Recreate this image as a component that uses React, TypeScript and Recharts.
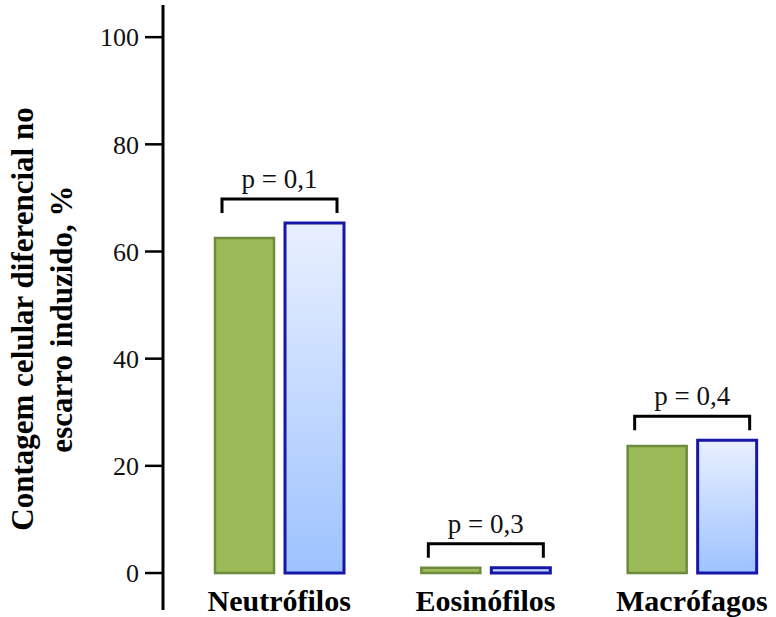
import React from "react";
import { BarChart, Bar, XAxis, YAxis, LabelList, Label } from "recharts";

const categories = ["Neutrófilos", "Eosinófilos", "Macrófagos"];
const groupA = [62.5, 1.0, 23.7];
const groupB = [65.3, 1.0, 24.8];
const pValues = ["p = 0,1", "p = 0,3", "p = 0,4"];
const yTicks = [0, 20, 40, 60, 80, 100];

const data = categories.map((name, i) => ({ name, a: groupA[i], b: groupB[i] }));

const SERIF = "'Liberation Serif', 'Times New Roman', serif";
const BAR_SIZE = 59;
const BAR_GAP = 11;

const Bracket = (props: any) => {
  const { x, y, width, index } = props;
  const left = x - BAR_GAP - width + 7;
  const right = x + width - 7;
  const top = y - 24;
  return (
    <g>
      <path
        d={`M${left},${top + 14} L${left},${top} L${right},${top} L${right},${top + 14}`}
        fill="none"
        stroke="#000"
        strokeWidth={3}
      />
      <text
        x={(left + right) / 2}
        y={top - 11}
        textAnchor="middle"
        fontFamily={SERIF}
        fontSize={27}
        fill="#111"
      >
        {pValues[index]}
      </text>
    </g>
  );
};

const CategoryTick = (props: any) => {
  const { x, y, payload } = props;
  return (
    <text
      x={x}
      y={y + 1}
      textAnchor="middle"
      fontFamily={SERIF}
      fontWeight="bold"
      fontSize={30}
      fill="#000"
    >
      {payload.value}
    </text>
  );
};

const AxisTitle = () => (
  <g fontFamily={SERIF} fontWeight="bold" fontSize={31} fill="#000">
    <text x={33} y={319} textAnchor="middle" transform="rotate(-90 33 319)">
      Contagem celular diferencial no
    </text>
    <text x={72} y={319} textAnchor="middle" transform="rotate(-90 72 319)">
      escarro induzido, %
    </text>
  </g>
);

export default function App() {
  return (
    <div style={{ position: "absolute", left: 0, top: 0 }}>
      <BarChart
        width={776}
        height={617}
        data={data}
        margin={{ top: 5, right: -19, bottom: 6, left: 0 }}
        barSize={BAR_SIZE}
        barGap={BAR_GAP}
      >
        <defs>
          <linearGradient id="blueFill" x1="0" y1="0" x2="0" y2="1">
            <stop offset="0%" stopColor="#E9F0FF" />
            <stop offset="100%" stopColor="#9DC2FF" />
          </linearGradient>
        </defs>
        <XAxis
          dataKey="name"
          height={1}
          axisLine={false}
          tickLine={false}
          tickSize={0}
          tickMargin={0}
          padding={{ left: 13, right: 0 }}
          tick={<CategoryTick />}
          interval={0}
        />
        <YAxis
          type="number"
          width={163}
          domain={[-6.9, 106]}
          ticks={yTicks}
          tickSize={18}
          tickMargin={6}
          axisLine={{ stroke: "#000", strokeWidth: 3 }}
          tickLine={{ stroke: "#000", strokeWidth: 2.5 }}
          tick={{ fill: "#111", fontFamily: SERIF, fontSize: 26 }}
        >
          <Label content={<AxisTitle />} />
        </YAxis>
        <Bar
          dataKey="a"
          fill="#9BBB59"
          stroke="#6E8B3D"
          strokeWidth={2.5}
          isAnimationActive={false}
        />
        <Bar
          dataKey="b"
          fill="url(#blueFill)"
          stroke="#1616A8"
          strokeWidth={3}
          isAnimationActive={false}
        >
          <LabelList dataKey="b" content={<Bracket />} />
        </Bar>
      </BarChart>
    </div>
  );
}
